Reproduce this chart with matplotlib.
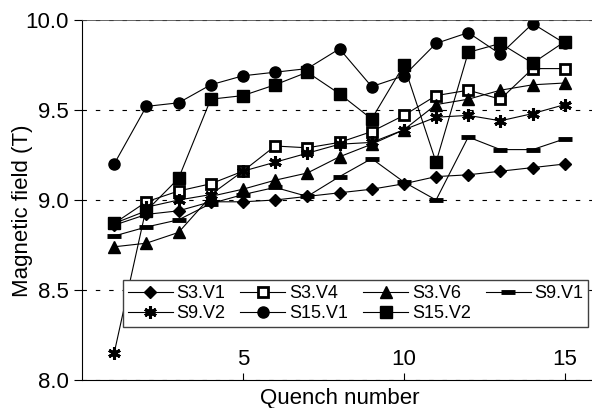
import matplotlib
matplotlib.use("Agg")
from matplotlib import pyplot as plt
from matplotlib.ticker import FormatStrFormatter

plt.rcParams["font.family"] = ["Liberation Sans", "DejaVu Sans"]

quench = list(range(1, 16))

s3_v1 = [8.86, 8.92, 8.94, 8.99, 8.99, 9.00, 9.02, 9.04, 9.06, 9.09, 9.13, 9.14, 9.16, 9.18, 9.20]
s3_v4 = [8.87, 8.99, 9.05, 9.09, 9.16, 9.30, 9.29, 9.32, 9.38, 9.47, 9.58, 9.61, 9.56, 9.73, 9.73]
s3_v6 = [8.74, 8.76, 8.82, 9.02, 9.06, 9.11, 9.15, 9.24, 9.31, 9.39, 9.53, 9.56, 9.61, 9.64, 9.65]
s9_v1 = [8.80, 8.85, 8.89, 8.98, 9.03, 9.07, 9.02, 9.13, 9.23, 9.10, 9.00, 9.35, 9.28, 9.28, 9.34]
s9_v2 = [8.15, 8.96, 9.00, 9.03, 9.16, 9.21, 9.26, 9.31, 9.32, 9.39, 9.46, 9.47, 9.44, 9.48, 9.53]
s15_v1 = [9.20, 9.52, 9.54, 9.64, 9.69, 9.71, 9.73, 9.84, 9.63, 9.69, 9.87, 9.93, 9.81, 9.98, 9.87]
s15_v2 = [8.87, 8.94, 9.12, 9.56, 9.58, 9.64, 9.71, 9.59, 9.45, 9.75, 9.21, 9.82, 9.87, 9.76, 9.88]

fig = plt.figure(figsize=(5.92, 4.08), dpi=100)
ax = fig.add_axes([82 / 592, 28 / 408, 515 / 592, 360 / 408])

style = dict(color="black", linewidth=0.8)
h1, = ax.plot(quench, s3_v1, marker="D", markersize=6, label="S3.V1", **style)
h2, = ax.plot(quench, s3_v4, marker="s", markersize=7, markerfacecolor="white",
              markeredgewidth=2, label="S3.V4", **style)
h3, = ax.plot(quench, s3_v6, marker="^", markersize=8, label="S3.V6", **style)
h4, = ax.plot(quench, s9_v1, marker="_", markersize=10, markeredgewidth=3.5, label="S9.V1", **style)
h5, = ax.plot(quench, s9_v2, marker=(6, 2, 0), markersize=9, markeredgewidth=2.2, label="S9.V2", **style)
h6, = ax.plot(quench, s15_v1, marker="o", markersize=8, label="S15.V1", **style)
h7, = ax.plot(quench, s15_v2, marker="s", markersize=8, label="S15.V2", **style)

ax.set_xlim(0, 16)
ax.set_ylim(8.0, 10.0)
ax.set_xticks([5, 10, 15])
ax.set_yticks([8.0, 8.5, 9.0, 9.5, 10.0])
ax.yaxis.set_major_formatter(FormatStrFormatter("%.1f"))
ax.tick_params(axis="x", direction="in", length=5, labelsize=16, pad=-22)
ax.tick_params(axis="y", direction="out", length=6, labelsize=16)
ax.yaxis.grid(True, color="black", linestyle=(0, (4, 8)), linewidth=0.8)
ax.spines["right"].set_visible(False)
ax.spines["top"].set_color("0.3")
ax.spines["top"].set_linewidth(0.6)

ax.set_xlabel("Quench number", fontsize=16, labelpad=6)
ax.set_ylabel("Magnetic field (T)", fontsize=16)
ax.yaxis.set_label_coords(-0.095, 0.47)

# column-major fill, so interleave to get row order
order = [h1, h5, h2, h6, h3, h7, h4]
leg = fig.legend(order, [h.get_label() for h in order],
                 loc="lower left", bbox_to_anchor=(123 / 592, 81 / 408, 465 / 592, 50 / 408),
                 mode="expand", ncol=4, fontsize=13, handlelength=2.5,
                 fancybox=False, edgecolor="0.25", framealpha=1, borderaxespad=0,
                 borderpad=0.25, columnspacing=0.5, handletextpad=0.2, labelspacing=0.2)
leg.get_frame().set_linewidth(1.0)

fig.savefig("out.png", dpi=100)
